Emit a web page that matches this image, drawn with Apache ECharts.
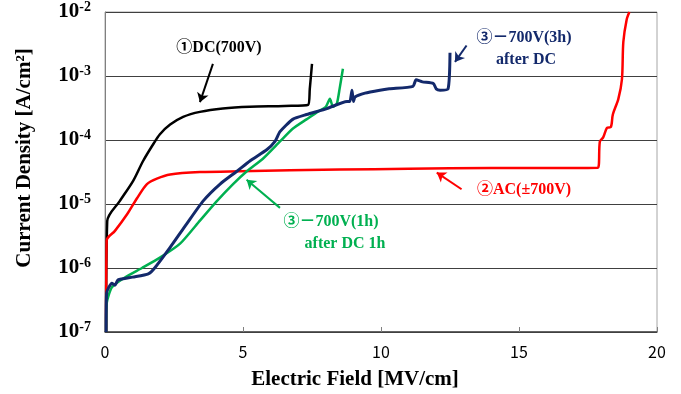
<!DOCTYPE html>
<html>
<head>
<meta charset="utf-8">
<script src="https://cdn.jsdelivr.net/npm/echarts@6/dist/echarts.min.js"></script>
<style>
  html, body { margin: 0; padding: 0; background: #fff; }
  #main { width: 681px; height: 394px; }
</style>
</head>
<body>
<div id="main"></div>
<script>
// x ticks and y decades
var fieldTicks = [0, 5, 10, 15, 20];
var decades = [1e-7, 1e-6, 1e-5, 1e-4, 1e-3, 1e-2];

// ①DC(700V)
var dcField = [0.04, 0.08, 0.54, 1.02, 1.38, 1.74, 1.99, 2.36, 2.83, 3.44, 4.27, 5.25, 6.5, 7.36, 7.42, 7.5];
var dcCurrent = [1e-7, 5.4e-6, 1.12e-5, 2.3e-5, 4.7e-5, 8.5e-5, 1.23e-4, 1.74e-4, 2.3e-4, 2.75e-4, 3.1e-4, 3.3e-4, 3.4e-4, 3.55e-4, 6.3e-4, 1.55e-3];

// ②AC(±700V)
var acField = [0.04, 0.06, 0.36, 0.8, 1.16, 1.52, 1.88, 2.36, 3.44, 4.9, 8.5, 11.0, 14.0, 17.86, 17.93, 18.05, 18.19, 18.33, 18.4, 18.6, 18.73, 18.78, 18.9, 19.0];
var acCurrent = [1e-7, 2.7e-6, 3.8e-6, 6.9e-6, 1.23e-5, 2.05e-5, 2.5e-5, 2.9e-5, 3.15e-5, 3.25e-5, 3.45e-5, 3.55e-5, 3.65e-5, 3.7e-5, 9.5e-5, 1.1e-4, 1.55e-4, 1.6e-4, 2.5e-4, 4.4e-4, 8.9e-4, 3.4e-3, 7.6e-3, 1e-2];

// ③-700V(3h) after DC
var h3Field = [0.04, 0.06, 0.25, 0.36, 0.47, 1.0, 1.57, 1.8, 2.36, 2.96, 3.56, 4.17, 4.78, 5.25, 5.87, 6.16, 6.34, 6.8, 7.3, 8.04, 8.77, 8.87, 8.95, 9.0, 9.06, 9.42, 9.96, 10.3, 11.16, 11.27, 11.5, 11.9, 12.0, 12.14, 12.43, 12.5];
var h3Current = [1e-7, 4.1e-7, 5.8e-7, 5.4e-7, 6.5e-7, 7.2e-7, 8.1e-7, 1e-6, 2.1e-6, 4.9e-6, 1.12e-5, 2.05e-5, 3.25e-5, 4.7e-5, 7.1e-5, 9.5e-5, 1.35e-4, 2.1e-4, 2.5e-4, 3.1e-4, 4e-4, 4e-4, 6e-4, 4e-4, 4.7e-4, 5.4e-4, 6e-4, 6.3e-4, 6.9e-4, 8.7e-4, 8.1e-4, 7.6e-4, 6.3e-4, 6e-4, 6.3e-4, 2.3e-3];

// ③-700V(1h) after DC 1h
var h1Field = [0.04, 0.06, 0.25, 0.72, 1.34, 1.99, 2.72, 3.44, 4.06, 4.64, 5.14, 5.72, 6.34, 6.8, 7.3, 7.7, 8.0, 8.15, 8.26, 8.4, 8.5, 8.62];
var h1Current = [1e-7, 2.8e-7, 5e-7, 7.1e-7, 1e-6, 1.45e-6, 2.4e-6, 5.5e-6, 1.12e-5, 2.05e-5, 3.25e-5, 5.1e-5, 9.5e-5, 1.5e-4, 2.1e-4, 2.75e-4, 3.3e-4, 4.4e-4, 3.3e-4, 3.7e-4, 6.3e-4, 1.3e-3];

function pairs(xs, ys) {
  return xs.map(function (x, i) { return [x, ys[i]]; });
}

var serif = '"Liberation Serif", "Times New Roman", "Noto Sans CJK JP", serif';
var navy = '#13296b', green = '#00b050', red = '#ff0000';

function arrow(from, to, color) {
  return {
    silent: true,
    symbol: ['none', 'arrow'],
    symbolSize: 9,
    label: { show: false },
    lineStyle: { color: color, width: 2, type: 'solid' },
    data: [[{ coord: from }, { coord: to }]]
  };
}

function curve(name, data, color, width, smooth, mark) {
  return {
    name: name,
    type: 'line',
    data: data,
    showSymbol: false,
    smooth: smooth,
    lineStyle: { color: color, width: width },
    itemStyle: { color: color },
    markLine: mark
  };
}

var chart = echarts.init(document.getElementById('main'));
chart.setOption({
  animation: false,
  grid: {
    left: 105, right: 24, top: 10, bottom: 62,
    show: true, borderColor: '#a6a6a6', borderWidth: 1
  },
  xAxis: {
    type: 'value',
    min: fieldTicks[0], max: fieldTicks[fieldTicks.length - 1], interval: 5,
    axisLine: { lineStyle: { color: '#404040', width: 1.5 } },
    axisTick: { inside: true, length: 5, lineStyle: { color: '#808080' } },
    splitLine: { show: false },
    axisLabel: {
      margin: 12, color: '#000', fontSize: 16,
      fontFamily: '"Noto Sans CJK JP", "Liberation Sans", sans-serif'
    }
  },
  yAxis: {
    type: 'log', logBase: 10,
    min: decades[0], max: decades[decades.length - 1],
    axisLine: { show: true, lineStyle: { color: '#808080' } },
    axisTick: { show: false },
    splitLine: { show: true, showMaxLine: false, lineStyle: { color: '#404040', width: 1 } },
    axisLabel: {
      margin: 14,
      formatter: function (v) {
        return '{a|10}{b|' + Math.round(Math.log10(v)) + '}';
      },
      rich: {
        a: { fontFamily: serif, fontWeight: 'bold', fontSize: 21, color: '#000' },
        b: { fontFamily: serif, fontWeight: 'bold', fontSize: 14, color: '#000', padding: [0, 0, 10, 0] }
      }
    }
  },
  series: [
    curve('DC', pairs(dcField, dcCurrent), '#000', 2.5, 0.3, arrow([3.91, 1.55e-3], [3.44, 3.9e-4], '#000')),
    curve('AC', pairs(acField, acCurrent), red, 2.5, 0.3, arrow([12.92, 1.7e-5], [12.02, 3.1e-5], red)),
    curve('1h', pairs(h1Field, h1Current), green, 2.5, 0.2, arrow([6.34, 8.7e-6], [5.13, 2.4e-5], green)),
    curve('3h', pairs(h3Field, h3Current), navy, 3, 0.2, arrow([13.1, 3.0e-3], [12.68, 1.66e-3], navy))
  ],
  graphic: [
    { type: 'text', x: 355, y: 380, style: { text: 'Electric Field [MV/cm]', font: 'bold 21px ' + serif, fill: '#000', align: 'center', verticalAlign: 'middle' } },
    { type: 'text', x: 25, y: 158, rotation: Math.PI / 2, style: { text: 'Current Density [A/cm²]', font: 'bold 21px ' + serif, fill: '#000', align: 'center', verticalAlign: 'middle' } },
    { type: 'text', x: 219, y: 48, style: { text: '①DC(700V)', font: 'bold 16px ' + serif, fill: '#000', align: 'center', verticalAlign: 'middle' } },
    { type: 'text', x: 524, y: 38, style: { text: '③－700V(3h)', font: 'bold 16px ' + serif, fill: navy, align: 'center', verticalAlign: 'middle' } },
    { type: 'text', x: 526, y: 60, style: { text: 'after DC', font: 'bold 16px ' + serif, fill: navy, align: 'center', verticalAlign: 'middle' } },
    { type: 'text', x: 524, y: 190, style: { text: '②AC(±700V)', font: 'bold 16px ' + serif, fill: red, align: 'center', verticalAlign: 'middle' } },
    { type: 'text', x: 331, y: 222, style: { text: '③－700V(1h)', font: 'bold 16px ' + serif, fill: green, align: 'center', verticalAlign: 'middle' } },
    { type: 'text', x: 345, y: 244, style: { text: 'after DC 1h', font: 'bold 16px ' + serif, fill: green, align: 'center', verticalAlign: 'middle' } }
  ]
});
window.onresize = chart.resize;
</script>
</body>
</html>
